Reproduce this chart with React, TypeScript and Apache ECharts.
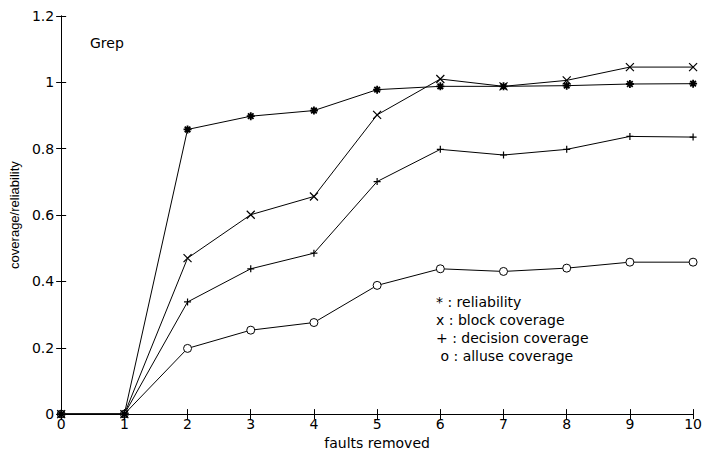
import React, { useEffect, useRef } from "react";
import * as echarts from "echarts";

const faultsRemoved = [0, 1, 2, 3, 4, 5, 6, 7, 8, 9, 10];
const reliability = [0, 0, 0.858, 0.898, 0.915, 0.978, 0.988, 0.988, 0.99, 0.995, 0.996];
const blockCoverage = [0, 0, 0.47, 0.601, 0.656, 0.902, 1.01, 0.988, 1.006, 1.046, 1.046];
const decisionCoverage = [0, 0, 0.338, 0.438, 0.485, 0.701, 0.798, 0.781, 0.798, 0.837, 0.835];
const alluseCoverage = [0, 0, 0.198, 0.253, 0.276, 0.388, 0.438, 0.43, 0.44, 0.458, 0.458];
const legendLines = ["* : reliability", "x : block coverage", "+ : decision coverage", " o : alluse coverage"];
const titleText = "Grep";
const xName = "faults removed";
const yName = "coverage/reliability";

const FONT = "'DejaVu Sans', Verdana, sans-serif";
const NARROW = "'Liberation Sans', Arial, Helvetica, sans-serif";

const pair = (ys: number[]) => faultsRemoved.map((x, i) => [x, ys[i]]);

export default function App() {
  const ref = useRef<HTMLDivElement>(null);
  useEffect(() => {
    if (!ref.current) return;
    const chart = echarts.init(ref.current, undefined, { renderer: "svg" });
    const axisCommon = {
      axisLine: { show: true, lineStyle: { color: "#000", width: 1 } },
      axisTick: { show: true, inside: true, length: 5, lineStyle: { color: "#000" } },
      splitLine: { show: false },
    };
    const lineSeries = (name: string, data: number[], symbol: string, size: number, fill: string, bw: number) => ({
      name,
      type: "line",
      data: pair(data),
      symbol,
      symbolSize: size,
      showSymbol: true,
      lineStyle: { color: "#000", width: 1 },
      itemStyle: { color: fill, borderColor: "#000", borderWidth: bw },
      emphasis: { disabled: true },
      xAxisIndex: 0,
      yAxisIndex: 0,
    });
    chart.setOption({
      animation: false,
      backgroundColor: "#fff",
      grid: { left: 60, right: 11, top: 16, bottom: 39, containLabel: false },
      xAxis: [
        {
          type: "value",
          min: 0,
          max: 10,
          interval: 1,
          position: "bottom",
          ...axisCommon,
          axisLabel: { color: "#000", fontSize: 14, fontFamily: FONT, margin: 3 },
          name: xName,
          nameLocation: "middle",
          nameGap: 20,
          nameTextStyle: { color: "#000", fontSize: 14, fontFamily: FONT },
        },
        {
          type: "value",
          min: 0,
          max: 10,
          interval: 1,
          position: "top",
          ...axisCommon,
          axisLabel: { show: false },
        },
      ],
      yAxis: [
        {
          type: "value",
          min: 0,
          max: 1.2,
          interval: 0.2,
          position: "left",
          ...axisCommon,
          axisLabel: {
            color: "#000",
            fontSize: 14,
            fontFamily: FONT,
            margin: 7,
            formatter: (v: number) => String(+v.toFixed(1)),
          },
          name: yName,
          nameLocation: "middle",
          nameGap: 38,
          nameTextStyle: { color: "#000", fontSize: 13, fontFamily: NARROW },
        },
        {
          type: "value",
          min: 0,
          max: 1.2,
          interval: 0.2,
          position: "right",
          ...axisCommon,
          axisLabel: { show: false },
        },
      ],
      graphic: [
        {
          type: "text",
          x: 90,
          y: 43,
          style: { text: titleText, fill: "#000", font: `14px ${FONT}`, verticalAlign: "middle" },
        },
        ...legendLines.map((t, i) => ({
          type: "text",
          x: 436,
          y: 302 + i * 18,
          style: { text: t, fill: "#000", font: `14px ${FONT}`, verticalAlign: "middle" },
        })),
      ],
      series: [
        lineSeries(
          "alluse coverage",
          alluseCoverage,
          "path://M10,5A5,5,0,1,1,0,5A5,5,0,1,1,10,5Z",
          8,
          "#fff",
          1
        ),
        lineSeries("decision coverage", decisionCoverage, "path://M5,0L5,10M0,5L10,5", 7, "transparent", 1.2),
        lineSeries("block coverage", blockCoverage, "path://M0,0L10,10M10,0L0,10", 8, "transparent", 1.2),
        lineSeries(
          "reliability",
          reliability,
          "path://M0,5L10,5M5,0L5,10M1.5,1.5L8.5,8.5M8.5,1.5L1.5,8.5",
          8,
          "transparent",
          1.8
        ),
      ],
    });
    return () => chart.dispose();
  }, []);
  return <div ref={ref} style={{ width: 705, height: 455, position: "absolute", left: 0, top: 0 }} />;
}
